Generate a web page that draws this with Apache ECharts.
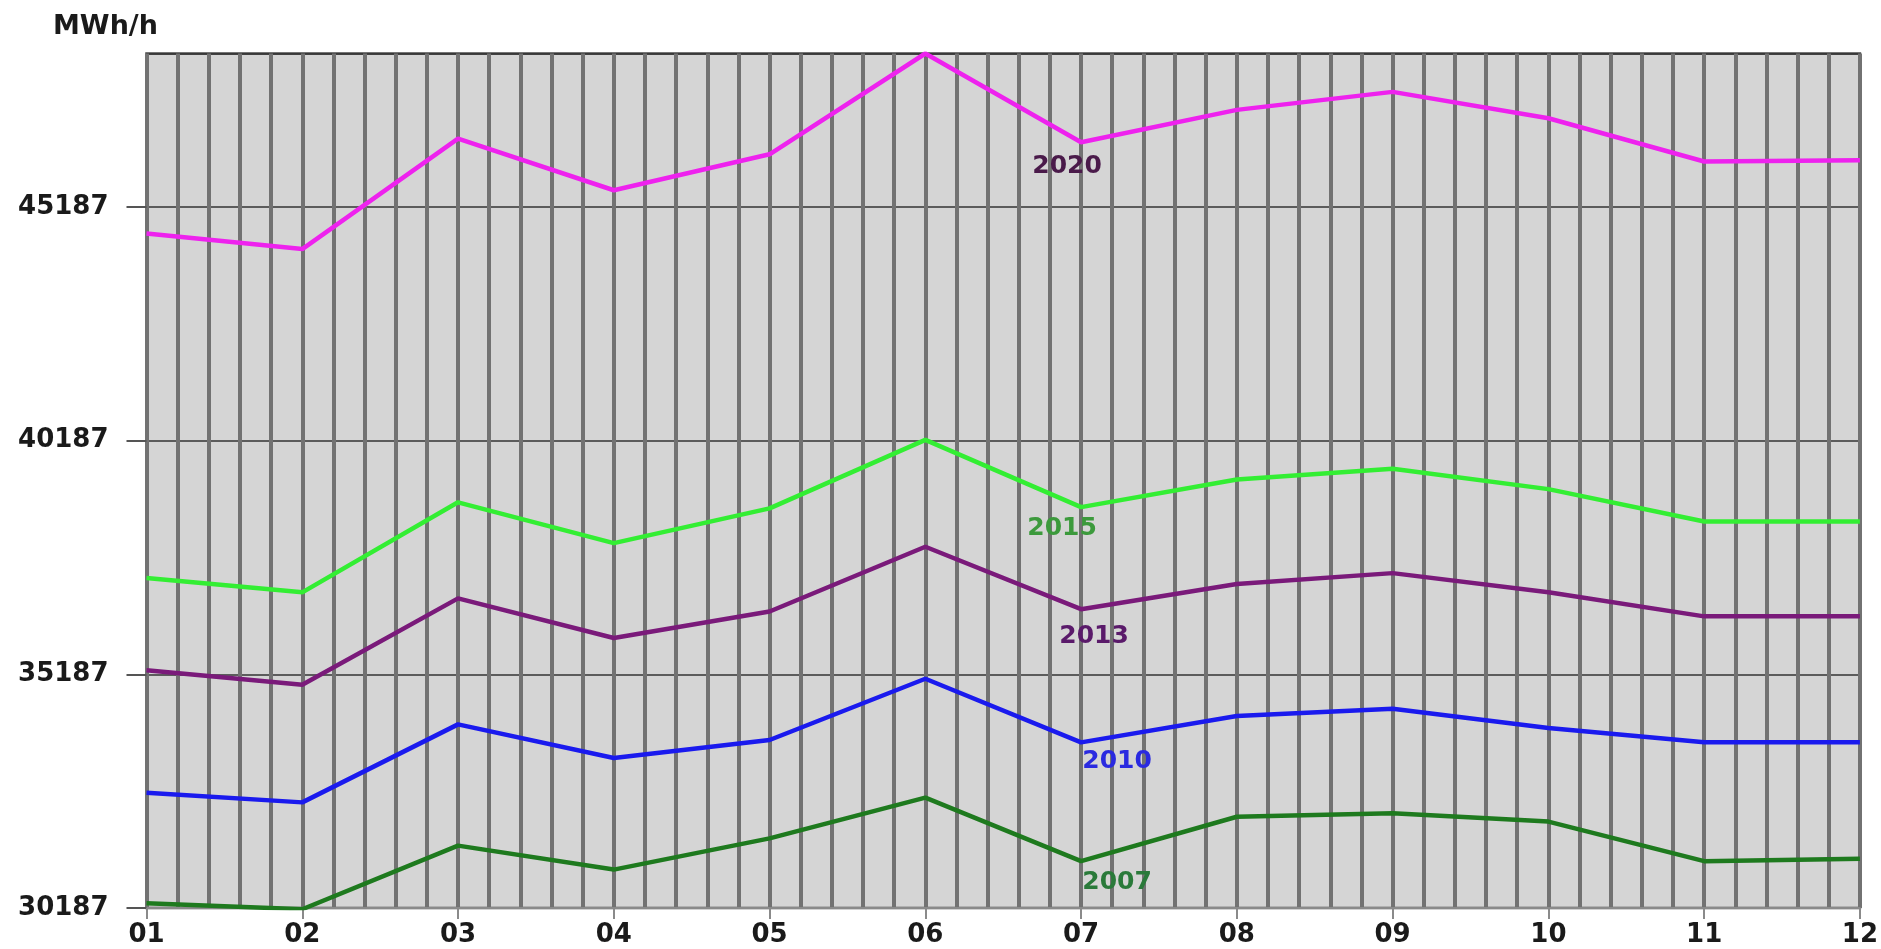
<!DOCTYPE html>
<html>
<head>
<meta charset="utf-8">
<script src="https://cdn.jsdelivr.net/npm/echarts@6/dist/echarts.min.js"></script>
<style>html,body{margin:0;padding:0;background:#fff;}#c{width:1881px;height:949px;}</style>
</head>
<body>
<div id="c"></div>
<script>
const months = ['01','02','03','04','05','06','07','08','09','10','11','12'];
const yTicks = [30187, 35187, 40187, 45187];
const yMax = 48470;
const s2020 = [44619, 44285, 46648, 45544, 46314, 48470, 46571, 47264, 47649, 47084, 46160, 46186];
const s2015 = [37249, 36941, 38867, 37994, 38738, 40202, 38764, 39355, 39586, 39149, 38456, 38456];
const s2013 = [35272, 34963, 36812, 35965, 36530, 37917, 36581, 37121, 37352, 36941, 36427, 36427];
const s2010 = [32652, 32447, 34116, 33397, 33782, 35092, 33731, 34296, 34450, 34039, 33731, 33731];
const s2007 = [30290, 30161, 31522, 31009, 31676, 32550, 31189, 32139, 32216, 32036, 31189, 31240];

const FONT = 'DejaVu Sans';
const labelIdx = 6;
function mk(name, arr, color, labelColor, off) {
  return {
    name: name, type: 'line', symbol: 'circle', symbolSize: 2, showSymbol: true,
    lineStyle: { color: color, width: 4.5 },
    itemStyle: { color: 'rgba(0,0,0,0)', borderWidth: 0 },
    label: { show: false },
    labelLayout: { hideOverlap: false },
    emphasis: { disabled: true },
    z: 5,
    data: arr.map((v, i) => {
      const d = { value: [i + 1, v] };
      if (i === labelIdx) {
        d.label = { show: true, position: [1 + off[0], 1 + off[1]], align: 'center', verticalAlign: 'middle',
          formatter: name, color: labelColor, fontFamily: FONT, fontWeight: 'bold', fontSize: 25 };
      }
      return d;
    })
  };
}

const chart = echarts.init(document.getElementById('c'), null, { renderer: 'canvas' });
chart.setOption({
  animation: false,
  backgroundColor: '#ffffff',
  title: { text: 'MWh/h', left: 48, top: 8,
    textStyle: { fontFamily: FONT, fontWeight: 'bold', fontSize: 27, color: '#1a1a1a' } },
  grid: { left: 146.5, right: 19, top: 53.5, bottom: 41, show: true,
    backgroundColor: '#d5d5d5', borderColor: '#4a4a4a', borderWidth: 2.5 },
  xAxis: {
    type: 'value', min: 1, max: 12, interval: 1,
    axisLine: { show: true, lineStyle: { color: '#8a8a8a', width: 2 } },
    axisTick: { show: true, length: 11, lineStyle: { color: '#8a8a8a', width: 2 } },
    axisLabel: { margin: 14, fontFamily: FONT, fontWeight: 'bold', fontSize: 26, color: '#1a1a1a',
      formatter: v => months[Math.round(v) - 1] },
    splitLine: { show: true, lineStyle: { color: '#727272', width: 4 } },
    minorTick: { show: false, splitNumber: 5 },
    minorSplitLine: { show: true, lineStyle: { color: '#727272', width: 4 } }
  },
  yAxis: {
    type: 'value', min: yTicks[0], max: yMax, interval: yTicks[1] - yTicks[0],
    axisLine: { show: false },
    axisTick: { show: true, length: 20, lineStyle: { color: '#555', width: 2 } },
    axisLabel: { margin: 38, showMaxLabel: false, fontFamily: FONT, fontWeight: 'bold', fontSize: 26, color: '#1a1a1a',
      formatter: v => String(v) },
    splitLine: { show: true, lineStyle: { color: '#333', width: 1.5 } }
  },
  series: [
    mk('2020', s2020, '#ee22ee', '#4a1a4a', [-14, 24]),
    mk('2015', s2015, '#33ee33', '#3c9a3c', [-19, 21]),
    mk('2013', s2013, '#7a1a7a', '#5a1a6a', [13, 27]),
    mk('2010', s2010, '#1a1aee', '#2a2ae0', [36, 19]),
    mk('2007', s2007, '#1e7a1e', '#2a7a3a', [36, 21])
  ]
});
</script>
</body>
</html>
